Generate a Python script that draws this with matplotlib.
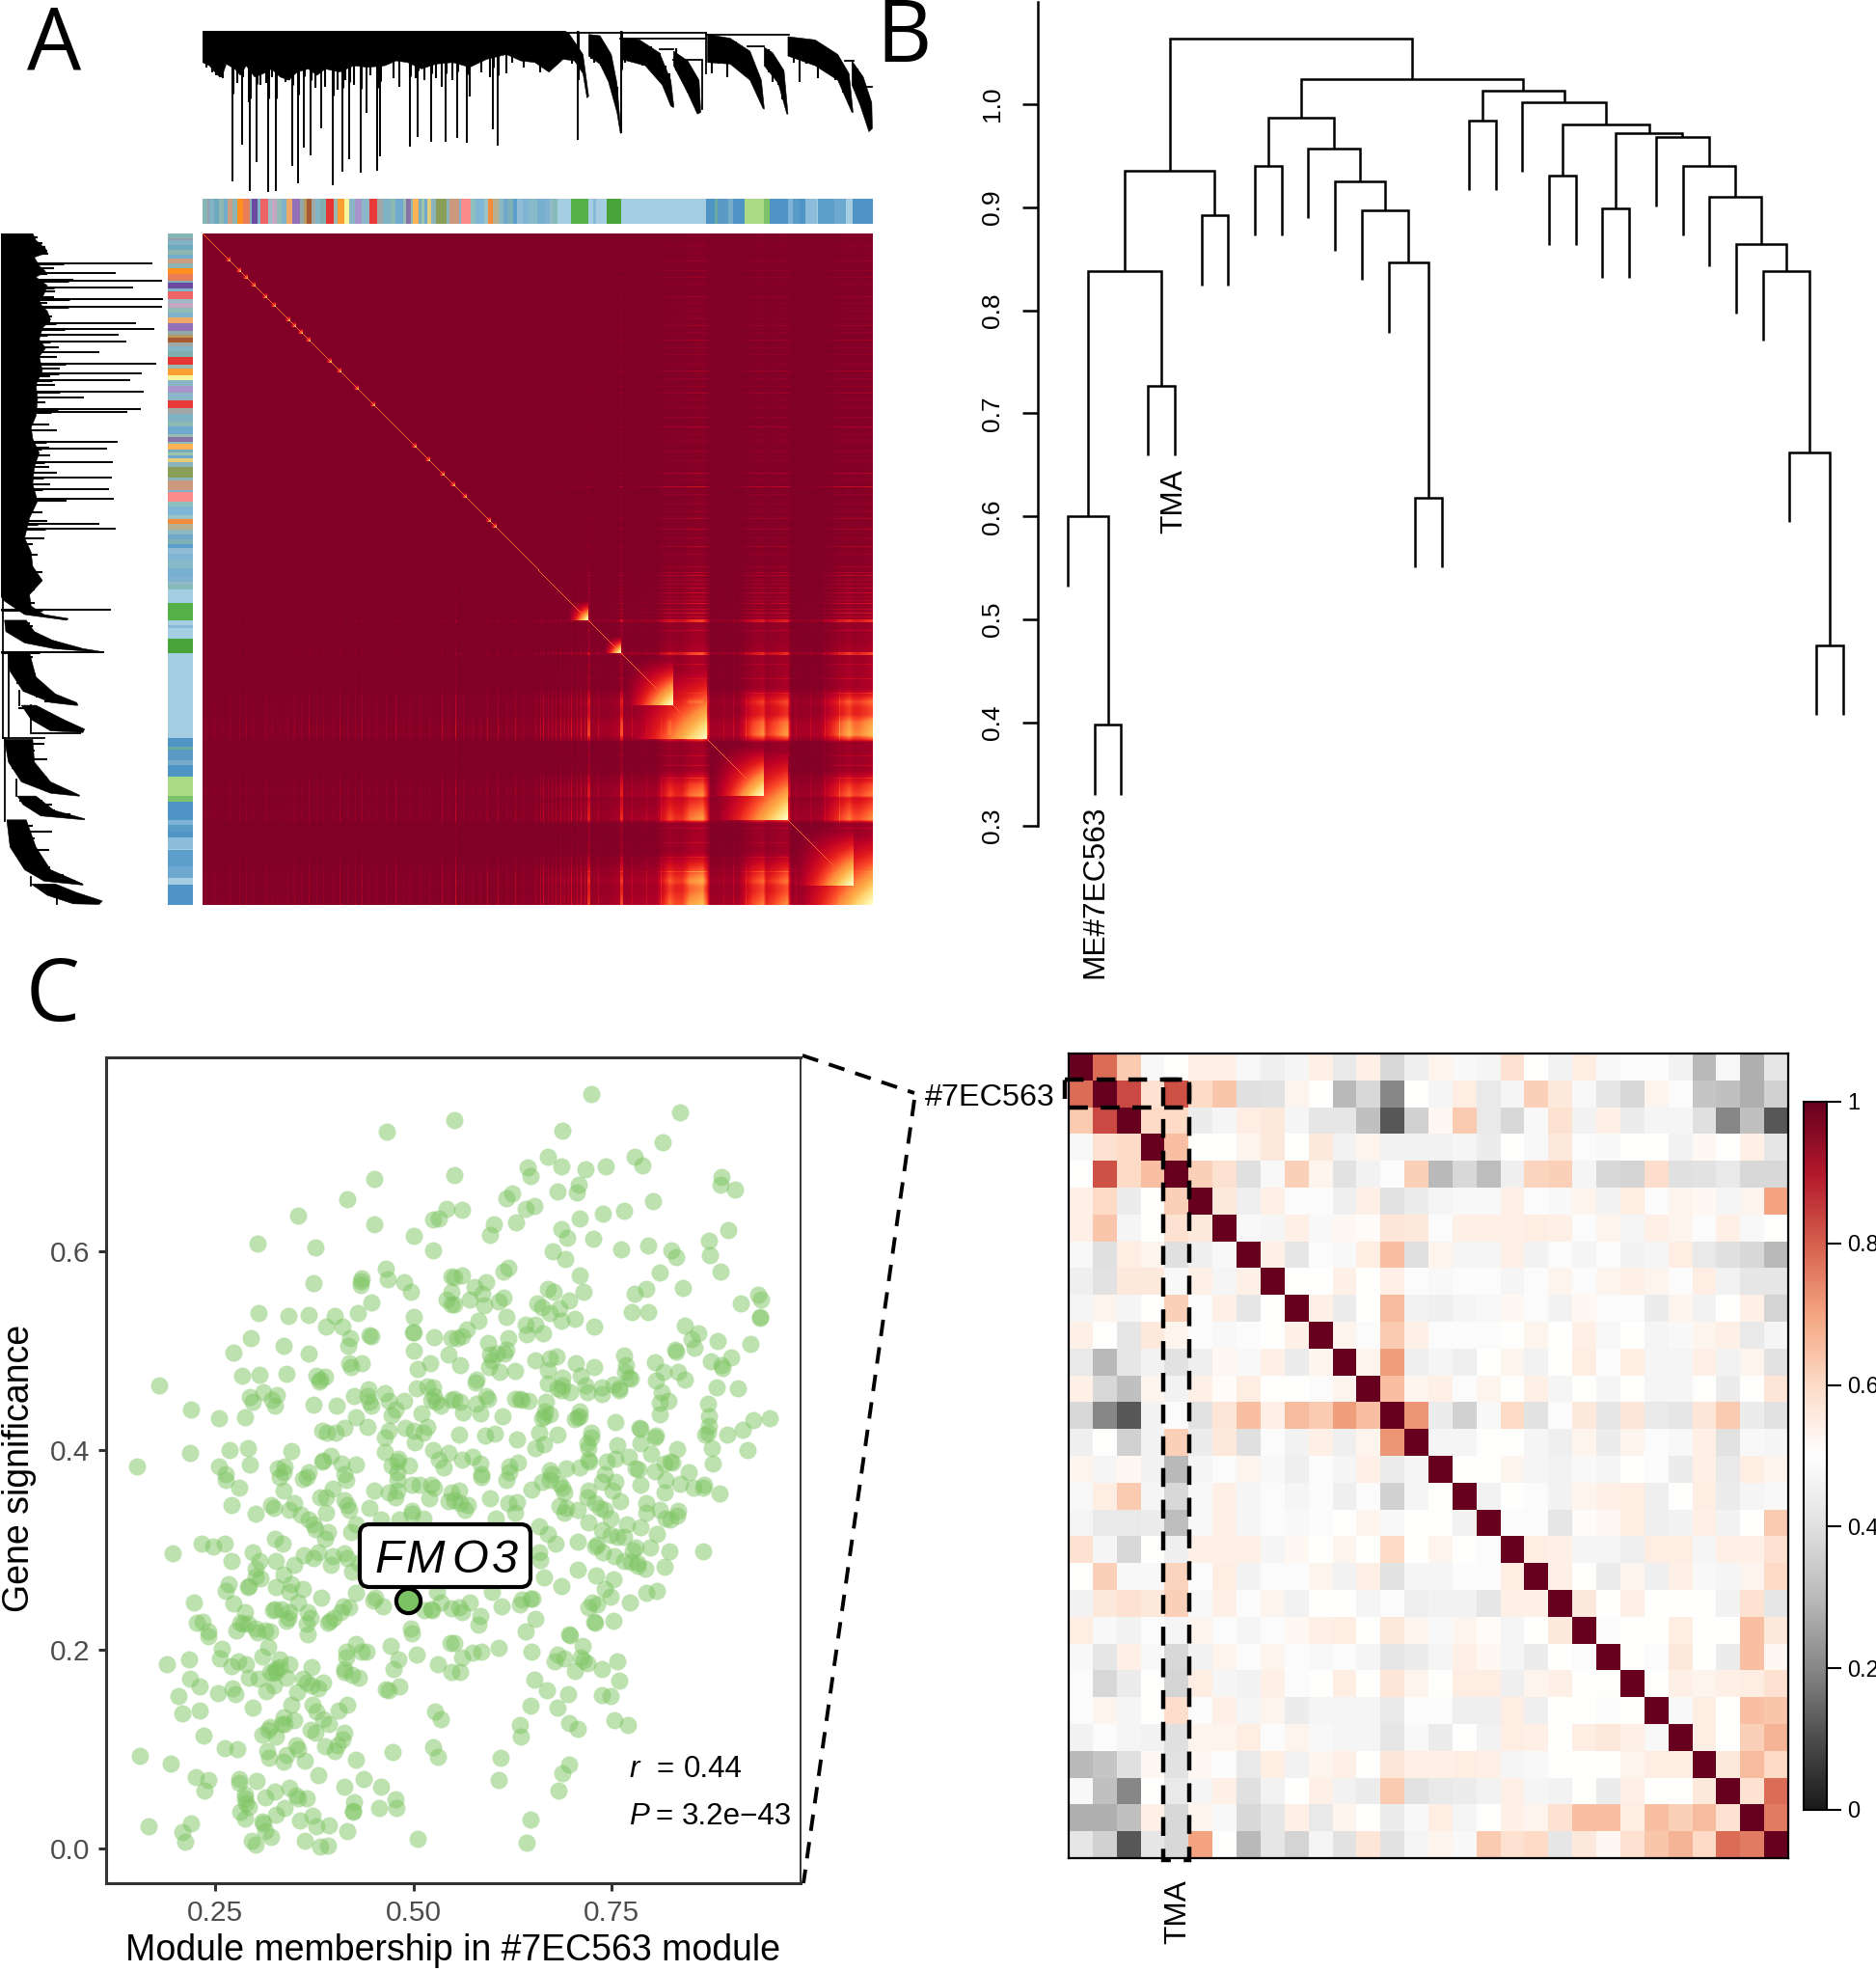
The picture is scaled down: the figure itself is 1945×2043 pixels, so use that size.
import numpy as np
import matplotlib
matplotlib.use("Agg")
import matplotlib.pyplot as plt
from matplotlib.colors import ListedColormap
from matplotlib.patches import FancyBboxPatch, Rectangle

plt.rcParams['font.family'] = ['Liberation Sans', 'DejaVu Sans']

W, H = 1945, 2043

# ---- panel A: gene tree (rank along tree, height of branch)
DEND_N = 1184
DEND_H = 503
clu_upper = [
    ([0, 640, 647, 672, 682], [503, 503, 495, 430, 300]),
    ([682, 702, 722, 732, 739], [492, 488, 430, 340, 185]),
    ([739, 772, 807, 827, 832], [482, 475, 435, 350, 275]),
    ([832, 857, 877, 880], [440, 410, 350, 250]),
    ([892, 932, 967, 987, 992], [492, 480, 440, 350, 265]),
    ([992, 1007, 1027, 1034], [452, 435, 380, 245]),
    ([1034, 1082, 1122, 1142, 1149], [485, 475, 430, 370, 250]),
    ([1147, 1167, 1182, 1183], [410, 360, 280, 200]),
]
clu_lower = [
    ([0, 12, 27, 34, 42, 57, 67, 77, 92, 107, 122, 137, 152, 167, 187, 202, 217, 242, 267, 292, 322, 342, 362,
      387, 412, 442, 472, 502, 537, 562, 587, 612, 637, 657, 672, 679, 682],
     [405, 395, 365, 360, 400, 385, 365, 395, 360, 370, 385, 360, 350, 375, 385, 365, 385, 375, 395, 390, 395,
      410, 405, 385, 400, 405, 390, 415, 430, 410, 405, 375, 415, 410, 370, 295, 300]),
    ([682, 702, 717, 732, 738], [425, 400, 345, 250, 185]),
    ([739, 782, 812, 827, 832], [415, 395, 335, 270, 265]),
    ([832, 857, 874, 880], [395, 310, 245, 250]),
    ([892, 932, 967, 990, 992], [405, 400, 350, 262, 260]),
    ([992, 1017, 1032, 1034], [395, 340, 245, 245]),
    ([1034, 1082, 1122, 1147, 1149], [425, 395, 350, 250, 250]),
    ([1147, 1162, 1177, 1183], [335, 270, 190, 200]),
]
spike_rank = [52, 84, 116, 130, 70, 95, 82, 159, 169, 179, 191, 210, 230, 247, 259, 279, 289, 309, 314, 367, 380,
              403, 430, 450, 467, 512, 521, 663, 739, 347, 422, 472, 537, 232]
spike_h = [35, 5, 2, 5, 150, 95, 280, 85, 30, 140, 117, 200, 23, 67, 105, 62, 248, 70, 113, 144, 175,
           158, 160, 170, 155, 198, 148, 165, 185, 340, 330, 300, 370, 380]
hair_rank = [7, 17, 24, 30, 35, 62, 72, 102, 112, 122, 147, 154, 200, 217, 239, 252, 267, 297, 337, 347, 377, 392,
             412, 422, 442, 472, 492, 507, 537, 547, 567, 597, 607, 617, 627, 652, 664,
             687, 692, 704, 712, 724, 732, 747, 762, 777, 792, 807, 817, 825,
             837, 847, 857, 867, 872, 900, 912, 927, 942, 960, 972, 982,
             1000, 1007, 1017, 1024, 1044, 1054, 1067, 1087, 1102, 1117, 1132, 1142, 1157, 1167, 1174]
hair_h = [390, 375, 365, 360, 357, 340, 360, 335, 340, 360, 345, 350, 325, 330, 320, 350, 335, 365, 355, 330, 355,
          350, 355, 330, 350, 300, 375, 360, 370, 405, 390, 375, 385, 395, 400, 400, 350,
          415, 405, 395, 375, 320, 260, 405, 410, 395, 385, 365, 325, 300,
          380, 350, 310, 280, 255, 370, 400, 360, 400, 360, 335, 300,
          375, 345, 335, 290, 405, 345, 400, 355, 380, 350, 310, 275, 315, 255, 215]
conn_h = [497, 478, 492, 445, 412, 455, 410, 330]
conn_a = [640, 738, 890, 807, 832, 962, 1135, 1170]
conn_b = [890, 890, 1036, 832, 880, 992, 1150, 1182]
conn_v_rank = [890, 882]
conn_v_top = [497, 412]
conn_v_bot = [370, 260]

# module colour strip
strip_bounds = [0, 5, 7, 12, 17, 22, 26, 31, 36, 42, 49, 51, 57, 60, 68, 72, 77, 82, 87, 93, 101, 105, 108, 113, 117,
                122, 128, 136, 140, 147, 152, 158, 165, 173, 181, 187, 195, 200, 208, 211, 216, 218, 224, 227, 230,
                233, 237, 242, 253, 256, 266, 268, 278, 283, 292, 296, 301, 307, 312, 317, 322, 326, 332, 338, 347,
                355, 360, 363, 368, 382, 400, 405, 408, 419, 434, 522, 531, 534, 545, 550, 562, 582, 588, 607, 612,
                619, 625, 637, 638, 655, 667, 674, 695]
strip_colors = ['#87B4B4', '#9A9FAE', '#7FB3C4', '#6FA9BE', '#8DB7B0', '#72AECB', '#C99E84', '#8FB5B3', '#FF8F1F',
                '#E87E55', '#80B0C0', '#6B4AA0', '#80B7C8', '#EE6466', '#9DB8C6', '#C4A8C0', '#8FBAB6', '#7FB3CC',
                '#F0A868', '#9470B8', '#8FAAA8', '#B99A5E', '#A85B32', '#A0A9A8', '#84B5C6', '#7FB0AF', '#E53535',
                '#9DB8B0', '#FF9E33', '#F8F59A', '#88B7C6', '#A994CC', '#8AB6C8', '#E83838', '#A1A8A8', '#7FB2C4',
                '#8CBAB2', '#6FA9CE', '#9CBCB0', '#8873A8', '#90B8B4', '#FFB155', '#74AEC0', '#A0C4A8', '#6FA9D0',
                '#E5CC7A', '#8AB4BA', '#8A9E58', '#8AB4BA', '#CB9A7E', '#7DB2C8', '#FB8A8A', '#8FC0C0', '#7FB5D5',
                '#9BC4C8', '#F08C3C', '#B9AE90', '#8BB8C0', '#6FA8C8', '#7FB0B8', '#5B9FCF', '#8FBBD4', '#7FB4D4',
                '#86BAC8', '#76AFD0', '#7FB2D0', '#93BAC8', '#85BBB8', '#A6CEE3', '#55B04A', '#A6CEE3', '#86BAD8',
                '#A6CEE3', '#4AA338', '#A6CEE3', '#4E94C4', '#6AAAA0', '#5A9AC4', '#78ABC8', '#4E94C4', '#ABDA85',
                '#7DC26B', '#4E94C4', '#7FB3D5', '#5A9CC8', '#4E94C4', '#8DBBDA', '#A6CEE3', '#5D9FCB', '#6DA8D0',
                '#A6CEE3', '#4E94C4']

# TOM heatmap: connectivity along the gene order, module blocks, bright spots on the diagonal
TOM_N = 695
tom_rank = [0, 30, 120, 200, 300, 340, 385, 398, 399, 401, 402, 420, 429, 432, 433, 435, 436, 470, 484, 490, 497, 505,
            518, 523, 526, 555, 570, 581, 584, 600, 606, 610, 640, 655, 670, 675, 680, 695]
tom_level = [.04, .04, .05, .05, .06, .08, .14, .16, .50, .50, .14, .16, .20, .22, .55, .55, .18, .22, .65, .55, .55,
             .78, .88, .55, .16, .18, .55, .68, .45, .66, .72, .16, .20, .50, .78, .66, .66, .85]
stripe_rank = [12, 20, 28, 38, 45, 52, 65, 72, 80, 88, 95, 102, 110, 118, 125, 135, 142, 150, 158, 165, 172, 180, 190,
               200, 208, 215, 225, 235, 248, 255, 262, 270, 280, 288, 295, 306, 315, 324, 332, 345, 350, 353, 358,
               362, 366, 371, 375, 379, 382, 388, 392, 396, 410, 445, 460, 475, 540, 550, 563, 615, 630, 645, 660]
stripe_gain = [.08, .06, .12, .08, .12, .08, .12, .08, .07, .09, .14, .08, .14, .08, .09, .08, .16, .09, .08, .16,
               .08, .09, .10, .18, .08, .09, .10, .09, .20, .09, .30, .10, .10, .10, .18, .18, .10, .18, .10, .12,
               .14, .22, .12, .14, .14, .20, .12, .14, .24, .14, .22, .14, .15, .12, .14, .14, .12, .14, .12, .12,
               .12, .12, .15]
block_start = [378, 415, 434, 434, 523, 523, 607, 607]
block_end = [400, 434, 488, 523, 582, 607, 675, 695]
spot_rank = [29, 40, 47, 55, 67, 76, 91, 97, 104, 112, 134, 144, 162, 179, 222, 236, 251, 262, 274, 299, 305]

# ---- panel B: eigengene tree. Leaves are 1..30 as -i, merged nodes as +k (1-based)
merge_a = [-2, -1, -4, 2, -6, 4, -14, -13, -12, -11, -10, -8, 12, -16, -19, -21, -29, -28, -27, -26, -25, -24, -23,
           16, 15, -18, 14, 13, 6]
merge_b = [-3, 1, -5, 3, -7, 5, -15, 7, 8, 9, 10, -9, 11, -17, -20, -22, -30, 17, 18, 19, 20, 21, 22, 23, 24, 25, 26,
           27, 28]
merge_h = [.398, .600, .727, .838, .892, .935, .618, .846, .897, .925, .957, .940, .987, .984, .931, .899, .475, .662,
           .838, .864, .910, .940, .968, .972, .980, 1.002, 1.013, 1.024, 1.063]
LEAF_HANG = .0676
b_ticks = [.3, .4, .5, .6, .7, .8, .9, 1.0]

# ---- panel C: module membership / gene significance of the genes, by picture region
pts_upper_left = [
    (.466, .720), (.451, .673), (.417, .652), (.355, .636), (.450, .627), (.500, .616), (.525, .632), (.532, .633),
    (.542, .643), (.525, .601), (.303, .608), (.376, .604), (.374, .568), (.435, .573), (.433, .570), (.434, .566),
    (.465, .583), (.468, .572), (.488, .569), (.497, .559), (.548, .575), (.542, .552), (.548, .559), (.548, .547),
    (.447, .549), (.430, .538), (.305, .538), (.342, .535), (.368, .536), (.401, .535), (.390, .524), (.411, .524),
    (.501, .534), (.500, .519), (.499, .519), (.526, .514), (.548, .513), (.445, .516), (.447, .515), (.420, .513),
    (.418, .505), (.295, .513), (.336, .505), (.273, .498), (.368, .497), (.501, .500), (.521, .488), (.544, .496),
    (.419, .488), (.435, .488), (.421, .484), (.505, .482), (.284, .475), (.306, .476), (.340, .477), (.378, .475),
    (.389, .474), (.381, .469), (.383, .471), (.179, .465), (.311, .459), (.328, .456), (.294, .454), (.297, .449),
    (.322, .451), (.325, .445), (.374, .446), (.403, .445), (.425, .455), (.443, .461), (.442, .455), (.445, .449),
    (.447, .445), (.464, .458), (.469, .450), (.488, .450), (.477, .441), (.473, .435), (.504, .462), (.518, .464),
    (.525, .463), (.526, .455), (.522, .451), (.528, .449), (.534, .445), (.548, .451), (.220, .441), (.255, .432),
    (.287, .433), (.428, .433), (.510, .437), (.442, .424), (.385, .420), (.391, .418), (.402, .418), (.413, .423),
    (.469, .420), (.464, .413), (.490, .423), (.501, .420), (.517, .424), (.512, .418), (.502, .408), (.218, .397),
    (.268, .400), (.291, .402), (.346, .399), (.464, .398), (.525, .400), (.544, .397), (.152, .384), (.294, .386),
    (.255, .384), (.386, .390), (.396, .395), (.385, .389), (.409, .387), (.427, .386), (.481, .392), (.480, .389),
    (.494, .385), (.473, .385), (.532, .391), (.538, .383), (.329, .382), (.338, .384), (.336, .378), (.263, .376),
    (.368, .378), (.413, .376), (.480, .378)]
pts_upper_right = [
    (.724, .758), (.836, .740), (.552, .732), (.688, .721), (.814, .710), (.669, .695), (.644, .684), (.647, .676),
    (.686, .685), (.717, .683), (.742, .685), (.779, .695), (.789, .686), (.551, .677), (.888, .675), (.887, .667),
    (.905, .662), (.681, .660), (.708, .667), (.706, .659), (.802, .651), (.624, .658), (.617, .653), (.641, .643),
    (.652, .646), (.561, .642), (.710, .633), (.739, .638), (.766, .641), (.629, .629), (.601, .627), (.597, .617),
    (.686, .622), (.694, .614), (.726, .613), (.897, .621), (.873, .611), (.874, .596), (.762, .602), (.796, .606),
    (.825, .601), (.831, .594), (.675, .600), (.691, .592), (.887, .580), (.810, .579), (.619, .584), (.613, .580),
    (.709, .576), (.561, .576), (.552, .574), (.592, .569), (.577, .564), (.587, .557), (.840, .563), (.793, .562),
    (.779, .557), (.669, .562), (.677, .559), (.714, .559), (.613, .554), (.607, .550), (.571, .552), (.589, .546),
    (.656, .548), (.662, .544), (.696, .551), (.684, .543), (.672, .538), (.686, .530), (.703, .532), (.775, .539),
    (.796, .539), (.913, .548), (.934, .556), (.938, .552), (.551, .547), (.617, .534), (.582, .530), (.641, .526),
    (.654, .526), (.643, .517), (.663, .518), (.728, .524), (.937, .534), (.937, .533), (.842, .525), (.859, .518),
    (.851, .512), (.854, .503), (.884, .510), (.925, .507), (.567, .522), (.561, .515), (.555, .513), (.594, .508),
    (.620, .513), (.617, .501), (.615, .497), (.597, .496), (.599, .491), (.605, .497), (.830, .501), (.831, .499),
    (.765, .495), (.654, .491), (.672, .492), (.680, .494), (.705, .488), (.728, .484), (.669, .481), (.711, .475),
    (.804, .489), (.768, .486), (.767, .479), (.772, .473), (.774, .472), (.815, .479), (.833, .479), (.842, .471),
    (.875, .490), (.888, .486), (.889, .483), (.901, .493), (.559, .486), (.595, .484), (.609, .479), (.628, .480),
    (.579, .471), (.578, .468), (.805, .470), (.670, .467), (.688, .473), (.688, .465), (.682, .462), (.686, .460),
    (.697, .459), (.719, .459), (.717, .465), (.737, .463), (.737, .457), (.752, .466), (.759, .462), (.759, .460),
    (.813, .459), (.882, .463), (.909, .462), (.821, .450), (.810, .448), (.871, .447), (.591, .455), (.594, .452),
    (.628, .452), (.634, .452), (.637, .451), (.645, .450), (.559, .449), (.579, .447), (.551, .452), (.667, .449),
    (.666, .439), (.672, .436), (.664, .434), (.662, .432), (.709, .439), (.709, .434), (.707, .433), (.703, .431),
    (.563, .438), (.584, .437), (.612, .434), (.754, .428), (.810, .436), (.873, .434), (.873, .425), (.868, .416),
    (.871, .418), (.928, .430), (.949, .432), (.915, .421), (.896, .416), (.724, .418), (.724, .413), (.719, .407),
    (.721, .402), (.785, .423), (.786, .422), (.806, .415), (.804, .413), (.658, .418), (.682, .416), (.557, .416),
    (.590, .415), (.603, .417), (.630, .411), (.654, .402), (.665, .406), (.757, .405), (.786, .407), (.800, .396),
    (.772, .394), (.832, .401), (.876, .402), (.921, .400), (.877, .387), (.722, .389), (.721, .391), (.755, .392),
    (.743, .389), (.575, .394), (.584, .387), (.561, .391), (.621, .384), (.632, .388), (.824, .389), (.826, .388),
    (.816, .387), (.672, .380), (.692, .382), (.709, .383), (.780, .382), (.804, .379), (.847, .378), (.784, .381),
    (.741, .376), (.585, .376), (.621, .378), (.674, .376)]
pts_lower_left = [
    (.263, .370), (.280, .363), (.271, .345), (.301, .336), (.321, .345), (.324, .342), (.336, .360), (.331, .373),
    (.360, .371), (.365, .373), (.350, .347), (.344, .340), (.358, .335), (.368, .331), (.374, .326), (.376, .321),
    (.392, .318), (.388, .311), (.382, .353), (.390, .353), (.398, .362), (.415, .370), (.413, .350), (.416, .345),
    (.419, .340), (.390, .337), (.427, .326), (.421, .318), (.450, .360), (.445, .342), (.459, .331), (.469, .358),
    (.480, .360), (.480, .370), (.477, .353), (.498, .365), (.508, .365), (.522, .365), (.526, .363), (.520, .352),
    (.544, .349), (.498, .339), (.498, .336), (.512, .332), (.482, .331), (.548, .358), (.325, .311), (.335, .306),
    (.233, .306), (.248, .303), (.262, .306), (.197, .297), (.297, .298), (.271, .289), (.327, .289), (.306, .289),
    (.350, .285), (.362, .295), (.374, .292), (.380, .298), (.398, .294), (.396, .285), (.413, .297), (.417, .292),
    (.423, .278), (.431, .287), (.301, .281), (.301, .273), (.307, .271), (.336, .275), (.293, .264), (.291, .263),
    (.267, .266), (.263, .259), (.327, .263), (.346, .266), (.344, .258), (.360, .261), (.223, .247), (.273, .246),
    (.384, .252), (.428, .257), (.354, .247), (.325, .240), (.323, .239), (.334, .240), (.344, .237), (.342, .232),
    (.340, .229), (.287, .237), (.281, .227), (.285, .226), (.277, .219), (.291, .226), (.301, .221), (.303, .217),
    (.313, .219), (.319, .218), (.234, .228), (.227, .227), (.241, .218), (.242, .213), (.367, .237), (.370, .232),
    (.366, .226), (.367, .215), (.392, .227), (.394, .229), (.400, .232), (.408, .237), (.412, .243), (.419, .242),
    (.452, .252), (.449, .249), (.461, .243), (.514, .239), (.522, .240), (.524, .239), (.534, .247), (.530, .258),
    (.548, .241), (.497, .221), (.498, .216), (.471, .204), (.504, .195), (.546, .206), (.531, .185), (.548, .177),
    (.481, .190), (.475, .180), (.427, .205), (.415, .198), (.415, .192), (.441, .198), (.435, .198), (.413, .180),
    (.413, .177), (.431, .172), (.423, .174), (.317, .203), (.309, .193), (.259, .201), (.256, .191), (.279, .188),
    (.289, .185), (.271, .183), (.217, .190), (.189, .185), (.331, .190), (.344, .185), (.327, .180), (.331, .182),
    (.327, .177), (.323, .176), (.319, .177), (.372, .182), (.305, .171), (.293, .172), (.340, .172), (.360, .171),
    (.366, .167), (.372, .164), (.386, .167), (.218, .171), (.230, .163), (.272, .161), (.275, .155), (.254, .156),
    (.314, .158), (.324, .164), (.353, .157), (.380, .161), (.204, .153), (.209, .136), (.230, .139), (.297, .141),
    (.346, .144), (.373, .144), (.378, .138), (.406, .139), (.417, .144), (.482, .163), (.465, .160), (.469, .159),
    (.350, .129), (.336, .132), (.334, .125), (.338, .125), (.319, .122), (.317, .119), (.309, .114), (.327, .112),
    (.386, .130), (.393, .125), (.370, .119), (.376, .116), (.413, .116), (.411, .109), (.404, .104), (.388, .103),
    (.401, .098), (.235, .113), (.262, .101), (.278, .100), (.155, .093), (.194, .085), (.316, .098), (.318, .091),
    (.352, .104), (.354, .100), (.340, .094), (.336, .087), (.363, .088), (.427, .089), (.474, .097), (.527, .138),
    (.535, .130), (.525, .102), (.531, .092), (.226, .072), (.241, .069), (.236, .058), (.280, .070), (.280, .066),
    (.302, .068), (.380, .074), (.437, .070), (.413, .062), (.459, .062), (.344, .061), (.325, .057), (.313, .051),
    (.287, .054), (.287, .050), (.289, .045), (.293, .042), (.352, .053), (.354, .050), (.366, .050), (.337, .041),
    (.327, .034), (.282, .037), (.288, .030), (.425, .046), (.424, .038), (.424, .037), (.457, .041), (.477, .049),
    (.478, .041), (.310, .027), (.311, .025), (.373, .033), (.357, .028), (.378, .022), (.393, .023), (.417, .017),
    (.220, .025), (.166, .022), (.209, .016), (.212, .007), (.321, .012), (.313, .017), (.296, .008), (.301, .004),
    (.363, .008), (.383, .002), (.392, .003), (.505, .010)]
pts_lower_right = [
    (.585, .373), (.617, .370), (.557, .360), (.597, .352), (.619, .347), (.630, .348), (.628, .337), (.604, .332),
    (.551, .350), (.559, .347), (.565, .340), (.569, .345), (.649, .361), (.662, .368), (.672, .370), (.684, .366),
    (.688, .363), (.690, .358), (.684, .344), (.692, .342), (.690, .337), (.707, .340), (.721, .360), (.719, .353),
    (.737, .368), (.755, .368), (.751, .360), (.729, .347), (.735, .342), (.741, .340), (.761, .349), (.749, .332),
    (.720, .328), (.786, .365), (.816, .358), (.818, .370), (.836, .366), (.853, .363), (.867, .365), (.865, .363),
    (.886, .357), (.793, .347), (.794, .337), (.810, .340), (.818, .332), (.824, .331), (.832, .334), (.834, .339),
    (.786, .323), (.769, .326), (.738, .320), (.749, .315), (.757, .313), (.765, .313), (.731, .305), (.729, .303),
    (.739, .298), (.753, .294), (.765, .289), (.776, .300), (.774, .288), (.782, .287), (.782, .284), (.792, .281),
    (.780, .302), (.798, .302), (.807, .316), (.823, .299), (.816, .283), (.865, .299), (.707, .308), (.658, .324),
    (.670, .316), (.679, .306), (.659, .298), (.660, .290), (.665, .272), (.687, .264), (.707, .280), (.730, .274),
    (.752, .270), (.741, .261), (.749, .253), (.731, .245), (.725, .247), (.721, .242), (.773, .247), (.794, .257),
    (.807, .259), (.728, .228), (.729, .227), (.752, .229), (.653, .231), (.642, .218), (.599, .258), (.611, .243),
    (.634, .245), (.636, .250), (.650, .251), (.648, .251), (.571, .247), (.557, .242), (.561, .237), (.584, .234),
    (.582, .225), (.697, .214), (.696, .215), (.713, .204), (.649, .198), (.607, .202), (.585, .198), (.575, .197),
    (.561, .192), (.681, .195), (.678, .188), (.690, .191), (.711, .192), (.714, .189), (.719, .186), (.704, .178),
    (.737, .180), (.757, .188), (.759, .169), (.559, .177), (.652, .170), (.668, .159), (.695, .155), (.738, .154),
    (.749, .153), (.647, .143), (.682, .141), (.634, .124), (.696, .126), (.707, .120), (.635, .112), (.753, .129),
    (.770, .124), (.610, .091), (.696, .084), (.688, .076), (.608, .069), (.683, .058), (.648, .029), (.643, .006),
    (.551, .206)]
fmo3_x, fmo3_y = .4925, .249

# module eigengene correlation, upper triangle row by row
corr_upper = [
    [.78, .63, .48, .50, .54, .54, .48, .45, .47, .54, .43, .54, .38, .45, .53, .48, .47, .58, .50, .46, .55, .48, .49, .49, .46, .30, .48, .28, .42],
    [.83, .58, .82, .60, .64, .40, .41, .53, .50, .30, .38, .20, .50, .47, .55, .43, .47, .62, .56, .48, .42, .38, .53, .49, .33, .32, .28, .36],
    [.60, .60, .44, .47, .55, .56, .47, .42, .42, .32, .12, .36, .52, .63, .43, .38, .48, .58, .46, .54, .44, .47, .47, .40, .20, .32, .12],
    [.65, .50, .50, .53, .56, .50, .56, .46, .53, .46, .46, .46, .47, .44, .50, .48, .56, .49, .48, .50, .50, .46, .52, .50, .54, .42],
    [.62, .58, .40, .48, .62, .53, .41, .46, .49, .62, .30, .38, .31, .45, .61, .62, .47, .38, .37, .59, .40, .41, .43, .38, .38],
    [.56, .45, .54, .49, .49, .45, .54, .41, .44, .47, .48, .48, .54, .49, .48, .53, .46, .55, .49, .53, .52, .47, .53, .70],
    [.48, .47, .54, .48, .52, .51, .57, .56, .49, .54, .54, .54, .55, .54, .49, .53, .47, .54, .53, .49, .54, .48, .50],
    [.54, .42, .49, .48, .55, .65, .40, .53, .47, .47, .54, .46, .49, .47, .49, .46, .47, .55, .43, .40, .38, .30],
    [.50, .50, .54, .50, .54, .49, .48, .49, .49, .47, .49, .53, .49, .53, .54, .53, .49, .55, .46, .42, .42],
    [.54, .44, .50, .66, .46, .45, .47, .48, .52, .49, .46, .52, .49, .49, .44, .53, .46, .50, .54, .37],
    [.53, .49, .63, .54, .49, .49, .49, .50, .53, .50, .54, .48, .50, .47, .48, .53, .54, .43, .47],
    [.53, .71, .45, .47, .45, .50, .53, .46, .50, .55, .49, .55, .47, .47, .54, .46, .53, .41],
    [.65, .53, .54, .49, .53, .50, .54, .47, .50, .47, .50, .47, .47, .50, .44, .50, .57],
    [.72, .44, .36, .48, .60, .41, .49, .56, .42, .57, .43, .42, .57, .63, .44, .41],
    [.47, .47, .50, .50, .47, .45, .53, .44, .53, .49, .48, .54, .41, .48, .47],
    [.50, .50, .53, .47, .46, .48, .47, .50, .49, .44, .54, .43, .55, .53],
    [.46, .50, .49, .46, .53, .54, .55, .45, .50, .55, .44, .47, .48],
    [.49, .49, .42, .51, .52, .55, .45, .46, .54, .46, .50, .63],
    [.55, .54, .47, .47, .45, .55, .55, .47, .54, .54, .58],
    [.54, .50, .44, .53, .45, .54, .48, .47, .53, .60],
    [.56, .50, .54, .50, .50, .50, .46, .58, .42],
    [.49, .50, .50, .55, .50, .50, .65, .56],
    [.50, .49, .56, .50, .44, .65, .52],
    [.50, .54, .53, .54, .55, .58],
    [.48, .55, .50, .65, .64],
    [.55, .50, .62, .67],
    [.56, .66, .60],
    [.58, .78],
    [.76]]
cbar_ticks = [0, .2, .4, .6, .8, 1]
cbar_labels = ['0', '0.2', '0.4', '0.6', '0.8', '1']
GREEN = '#7EC563'


def px_axes(fig, x0, y0, x1, y1, **kw):
    return fig.add_axes([x0 / W, 1 - y1 / H, (x1 - x0) / W, (y1 - y0) / H], **kw)


def draw_tree(ax, flip):
    # flip=False: hanging down (top); flip=True: lying on its side (left)
    def pl(xs, ys, **kw):
        if flip:
            ax.plot(ys, xs, **kw)
        else:
            ax.plot(xs, ys, **kw)
    for (ux, uh), (lx, lh) in zip(clu_upper, clu_lower):
        xs = list(ux) + list(lx)[::-1]
        ys = list(uh) + list(lh)[::-1]
        if flip:
            ax.fill(ys, xs, color='black', lw=0.4)
        else:
            ax.fill(xs, ys, color='black', lw=0.4)
    for r, h in zip(hair_rank, hair_h):
        pl([r, r], [h + 70, h], color='black', lw=1.5, solid_capstyle='butt')
    for r, h in zip(spike_rank, spike_h):
        pl([r, r], [DEND_H, h], color='black', lw=1.4, solid_capstyle='butt')
        pl([r, r], [DEND_H, (DEND_H + h) / 2 + 40], color='black', lw=2.2, solid_capstyle='butt')
    for h, a, b in zip(conn_h, conn_a, conn_b):
        pl([a, b], [h, h], color='black', lw=1.3)
    for r, t, b in zip(conn_v_rank, conn_v_top, conn_v_bot):
        pl([r, r], [t, b], color='black', lw=1.3)
    ax.axis('off')


def tom_matrix():
    g = np.interp(np.arange(TOM_N), tom_rank, tom_level)
    for pos, gain in zip(stripe_rank, stripe_gain):
        g[pos] += gain
    m = np.clip(np.outer(g, g), 0, 1) ** 1.3
    for s, e in zip(block_start, block_end):
        u = (np.arange(e - s) / float(e - s - 1)) ** 1.4
        m[s:e, s:e] = np.maximum(m[s:e, s:e], np.outer(u, u))
    idx = np.arange(TOM_N)
    m[idx, idx] = np.maximum(m[idx, idx], .42)
    for pos in spot_rank:
        u = np.arange(6) / 5.0
        m[pos - 6:pos, pos - 6:pos] = np.maximum(m[pos - 6:pos, pos - 6:pos], np.outer(u, u) * .7)
    return m


fig = plt.figure(figsize=(W / 100, H / 100), dpi=100)

# ---- A
ax_top = px_axes(fig, 210, 32, 905, 200)
draw_tree(ax_top, False)
ax_top.set_xlim(0, DEND_N)
ax_top.set_ylim(0, DEND_H)

ax_left = px_axes(fig, 1, 242, 170, 938)
draw_tree(ax_left, True)
ax_left.set_xlim(DEND_H, 0)
ax_left.set_ylim(DEND_N, 0)

strip_cmap = ListedColormap(strip_colors)
strip_idx = np.arange(len(strip_colors))
ax_s1 = px_axes(fig, 210, 206, 905, 232)
ax_s1.pcolormesh(strip_bounds, [0, 1], strip_idx[None, :], cmap=strip_cmap)
ax_s1.axis('off')
ax_s2 = px_axes(fig, 174, 242, 200, 938)
ax_s2.pcolormesh([0, 1], strip_bounds, strip_idx[:, None], cmap=strip_cmap)
ax_s2.set_ylim(TOM_N, 0)
ax_s2.axis('off')

ax_tom = px_axes(fig, 210, 242, 905, 938)
ax_tom.imshow(tom_matrix(), cmap='YlOrRd_r', vmin=0, vmax=1, aspect='auto', interpolation='nearest')
ax_tom.axis('off')

# ---- B
ax_b = px_axes(fig, 1076, 2, 1945, 856)
node_x = {}
for k, (a, b, h) in enumerate(zip(merge_a, merge_b, merge_h), start=1):
    xa = -a if a < 0 else node_x[a][0]
    xb = -b if b < 0 else node_x[b][0]
    ya = h - LEAF_HANG if a < 0 else node_x[a][1]
    yb = h - LEAF_HANG if b < 0 else node_x[b][1]
    ax_b.plot([xa, xa, xb, xb], [ya, h, h, yb], color='black', lw=1.8, solid_joinstyle='miter', solid_capstyle='butt')
    node_x[k] = ((xa + xb) / 2.0, h)
ax_b.set_xlim(1 - 31 / 27.72, 1 + (1945 - 1107) / 27.72)
ax_b.set_ylim(.3, 1.099)
for s in ['top', 'right', 'bottom']:
    ax_b.spines[s].set_visible(False)
ax_b.spines['left'].set_linewidth(1.8)
ax_b.set_xticks([])
ax_b.set_yticks(b_ticks)
ax_b.set_yticklabels(['%.1f' % t for t in b_ticks], rotation=90, va='center', fontsize=19, color='black')
ax_b.tick_params(axis='y', length=11.5, width=1.8, pad=14)
ax_b.patch.set_alpha(0)

# ---- C scatter
ax_c = px_axes(fig, 110, 1096, 830, 1952)
for pts in [pts_upper_left, pts_upper_right, pts_lower_left, pts_lower_right]:
    ax_c.scatter([p[0] for p in pts], [p[1] for p in pts], s=168, color=GREEN, alpha=.5, linewidths=0)
ax_c.scatter([fmo3_x], [fmo3_y], s=330, color='#7AC264', edgecolors='black', linewidths=3)
ax_c.set_xlim(.1125, .988)
ax_c.set_ylim(-.035, .795)
ax_c.set_xticks([.25, .5, .75])
ax_c.set_xticklabels(['0.25', '0.50', '0.75'])
ax_c.set_yticks([0, .2, .4, .6])
ax_c.set_yticklabels(['0.0', '0.2', '0.4', '0.6'])
ax_c.tick_params(length=6, width=2.2, color='#333333', labelcolor='#4D4D4D', labelsize=21.5, pad=6)
for s in ax_c.spines.values():
    s.set_linewidth(2.2)
    s.set_color('#333333')
ax_c.spines['right'].set_linewidth(1.4)

# ---- C correlation heatmap
n_mod = len(corr_upper) + 1
corr = np.eye(n_mod)
for i, row in enumerate(corr_upper):
    corr[i, i + 1:] = row
    corr[i + 1:, i] = row
ax_h = px_axes(fig, 1108, 1092, 1854, 1926)
im = ax_h.imshow(corr, cmap='RdGy_r', vmin=0, vmax=1, aspect='auto', interpolation='nearest')
ax_h.set_xticks([])
ax_h.set_yticks([])
for s in ax_h.spines.values():
    s.set_linewidth(1.6)

cax = px_axes(fig, 1870, 1142, 1894, 1876)
cb = fig.colorbar(im, cax=cax, ticks=cbar_ticks)
cb.ax.set_yticklabels(cbar_labels)
cb.ax.tick_params(length=11, width=1.5, labelsize=17, pad=4)
cb.outline.set_linewidth(1.5)

# ---- overlay: letters, labels and dashed guides
ov = px_axes(fig, 0, 0, W, H, zorder=10)
ov.set_xlim(0, W)
ov.set_ylim(H, 0)
ov.axis('off')
ov.patch.set_alpha(0)

letter_font = dict(family='Open Sans', fontsize=64, color='black', va='baseline', ha='center')
ov.text(56, 72, 'A', **letter_font)
ov.text(937, 64, 'B', **letter_font)
ov.text(55, 1058, 'C', **letter_font)

ov.text(1135, 834, 'ME#7EC563', rotation=90, fontsize=22.8, ha='center', va='top')
ov.text(1217, 486, 'TMA', rotation=90, fontsize=22.8, ha='center', va='top')
ov.text(1221, 1948, 'TMA', rotation=90, fontsize=22.8, ha='center', va='top')
ov.text(1094, 1138, '#7EC563', fontsize=23.3, ha='right', va='center')

ov.text(470, 2022, 'Module membership in #7EC563 module', fontsize=27, ha='center', va='center')
ov.text(20, 1522, 'Gene significance', fontsize=27, rotation=90, ha='center', va='center')

ov.add_patch(FancyBboxPatch((373, 1580), 177, 65, boxstyle='round,pad=0,rounding_size=10',
                            fc='white', ec='black', lw=3))
for ch, cx in zip('FMO3', [389, 421, 468, 510]):
    ov.text(cx, 1630, ch, fontsize=35, style='italic', ha='left', va='baseline')

ov.text(652, 1842, 'r', fontsize=22.5, style='italic', va='baseline')
ov.text(681, 1842, '=', fontsize=22.5, va='baseline')
ov.text(709, 1842, '0.44', fontsize=22.5, va='baseline')
ov.text(652, 1891, 'P', fontsize=22.5, style='italic', va='baseline')
ov.text(680, 1891, '=', fontsize=22.5, va='baseline')
ov.text(707, 1891, '3.2e\u221243', fontsize=22.5, va='baseline')

dash = (0, (4.4, 3.0))
ov.plot([832, 948], [1094, 1133], color='black', lw=2.8, ls=dash)
ov.plot([948, 833], [1140, 1952], color='black', lw=2.8, ls=dash)
ov.add_patch(Rectangle((1104, 1118.5), 129, 29, fill=False, ec='black', lw=3.2, ls=dash))
ov.add_patch(Rectangle((1206, 1118.5), 27, 809, fill=False, ec='black', lw=3.2, ls=dash))

fig.savefig('out.png', dpi=100)
